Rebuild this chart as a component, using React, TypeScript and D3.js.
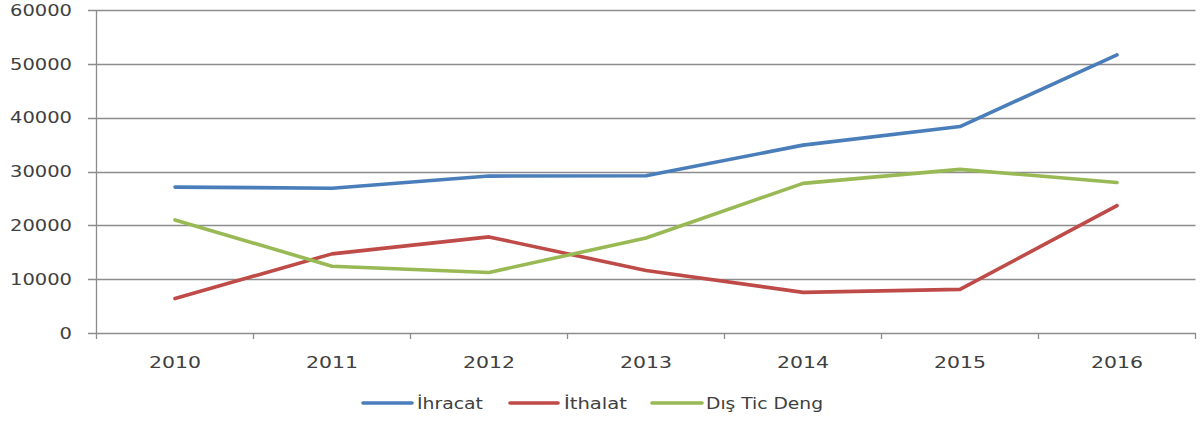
import React from "react";
import * as d3 from "d3";

const years = ["2010", "2011", "2012", "2013", "2014", "2015", "2016"];
const ihracat = [27100, 26900, 29150, 29200, 34900, 38350, 51650];
const ithalat = [6400, 14700, 17850, 11600, 7550, 8100, 23650];
const disTicDeng = [21000, 12400, 11250, 17650, 27800, 30400, 27950];
const yTicks = [0, 10000, 20000, 30000, 40000, 50000, 60000];

const seriesNames = ["İhracat", "İthalat", "Dış Tic Deng"];
const seriesColors = ["#4A7EBB", "#BE4B48", "#98B954"];
const seriesData = [ihracat, ithalat, disTicDeng];

const W = 1204;
const H = 422;
const left = 96.5;
const right = 1195.5;
const top = 10;
const bottom = 333;

export default function App() {
  const x = d3.scaleBand<string>().domain(years).range([left, right]).padding(0);
  const y = d3.scaleLinear().domain([0, 60000]).range([bottom, top]);
  const line = d3
    .line<number>()
    .x((_, i) => (x(years[i]) as number) + x.bandwidth() / 2)
    .y((d) => y(d))
    .curve(d3.curveLinear);

  const gridColor = "#8C8C8C";
  const font = "'DejaVu Sans', Verdana, sans-serif";

  const legendItems = [
    { lx1: 363, lx2: 412, tx: 417, tw: 66 },
    { lx1: 510, lx2: 558, tx: 564, tw: 63 },
    { lx1: 652, lx2: 702, tx: 706, tw: 117 },
  ];

  const boundaries = d3.range(years.length + 1).map((i) => left + i * x.bandwidth());

  return (
    <svg width={W} height={H} style={{ position: "absolute", left: 0, top: 0, background: "#fff" }}>
      {yTicks.map((t) => (
        <g key={t}>
          <line x1={88} x2={right} y1={Math.round(y(t)) + 0.5} y2={Math.round(y(t)) + 0.5} stroke={gridColor} strokeWidth={1.3} />
          <text
            x={72}
            y={y(t)}
            dy="0.36em"
            textAnchor="end"
            fontFamily={font}
            fontSize={16}
            fill="#404040"
            textLength={String(t).length * 12.4}
            lengthAdjust="spacingAndGlyphs"
          >
            {t}
          </text>
        </g>
      ))}
      <line x1={left} x2={left} y1={top} y2={bottom} stroke={gridColor} strokeWidth={1.3} />
      {boundaries.map((bx, i) => (
        <line key={i} x1={bx} x2={bx} y1={bottom} y2={339} stroke={gridColor} strokeWidth={1.3} />
      ))}
      {years.map((yr) => (
        <text
          key={yr}
          x={(x(yr) as number) + x.bandwidth() / 2}
          y={362}
          dy="0.36em"
          textAnchor="middle"
          fontFamily={font}
          fontSize={15.5}
          fill="#404040"
          textLength={52}
          lengthAdjust="spacingAndGlyphs"
        >
          {yr}
        </text>
      ))}
      {seriesData.map((s, i) => (
        <path
          key={i}
          d={line(s) || ""}
          fill="none"
          stroke={seriesColors[i]}
          strokeWidth={3.6}
          strokeLinecap="round"
          strokeLinejoin="round"
        />
      ))}
      {legendItems.map((it, i) => (
        <g key={i}>
          <line x1={it.lx1} x2={it.lx2} y1={403} y2={403} stroke={seriesColors[i]} strokeWidth={3.6} strokeLinecap="round" />
          <text
            x={it.tx}
            y={403}
            dy="0.36em"
            fontFamily={font}
            fontSize={15.5}
            fill="#404040"
            textLength={it.tw}
            lengthAdjust="spacingAndGlyphs"
          >
            {seriesNames[i]}
          </text>
        </g>
      ))}
    </svg>
  );
}
